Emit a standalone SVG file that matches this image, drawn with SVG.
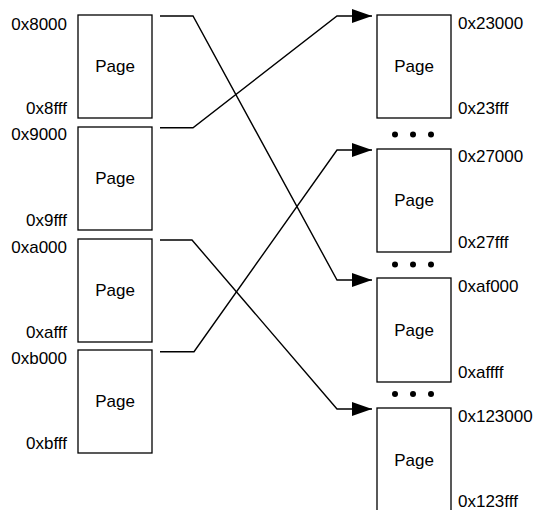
<svg xmlns="http://www.w3.org/2000/svg" width="539" height="510" viewBox="0 0 539 510">
  <defs>
    <marker id="arrow" markerUnits="userSpaceOnUse" markerWidth="20" markerHeight="14" refX="20" refY="7" orient="auto">
      <path d="M0,0 L20,7 L0,14 Z" fill="#000"/>
    </marker>
    <style>
      .page { fill: #fff; stroke: #000; stroke-width: 1.3; }
      .label { font-family: "Liberation Sans", Arial, sans-serif; font-size: 17px; fill: #000; }
      .mid { text-anchor: middle; }
      .end { text-anchor: end; }
      .link { fill: none; stroke: #000; stroke-width: 1.4; marker-end: url(#arrow); }
      .dot { fill: #000; }
    </style>
  </defs>
  <rect width="539" height="510" fill="#fff"/>

  <!-- virtual pages -->
  <g id="vpage-8000">
    <rect class="page" x="78" y="15" width="74" height="103"/>
    <text class="label mid" x="115" y="72">Page</text>
    <text class="label end" x="67" y="29.5">0x8000</text>
    <text class="label end" x="67" y="114">0x8fff</text>
  </g>
  <g id="vpage-9000">
    <rect class="page" x="78" y="127" width="74" height="103"/>
    <text class="label mid" x="115" y="184">Page</text>
    <text class="label end" x="67" y="140">0x9000</text>
    <text class="label end" x="67" y="226">0x9fff</text>
  </g>
  <g id="vpage-a000">
    <rect class="page" x="78" y="239" width="74" height="103"/>
    <text class="label mid" x="115" y="296">Page</text>
    <text class="label end" x="67" y="252.5">0xa000</text>
    <text class="label end" x="67" y="337.5">0xafff</text>
  </g>
  <g id="vpage-b000">
    <rect class="page" x="78" y="350" width="74" height="103"/>
    <text class="label mid" x="115" y="407">Page</text>
    <text class="label end" x="67" y="364">0xb000</text>
    <text class="label end" x="67" y="449">0xbfff</text>
  </g>

  <!-- physical frames -->
  <g id="frame-23000">
    <rect class="page" x="377" y="15" width="74" height="103"/>
    <text class="label mid" x="414" y="72">Page</text>
    <text class="label" x="458" y="29">0x23000</text>
    <text class="label" x="458" y="113.5">0x23fff</text>
  </g>
  <g id="gap-1">
    <circle class="dot" cx="395" cy="134.5" r="3"/>
    <circle class="dot" cx="413" cy="134.5" r="3"/>
    <circle class="dot" cx="431" cy="134.5" r="3"/>
  </g>
  <g id="frame-27000">
    <rect class="page" x="377" y="149" width="74" height="103"/>
    <text class="label mid" x="414" y="206">Page</text>
    <text class="label" x="458" y="162">0x27000</text>
    <text class="label" x="458" y="248">0x27fff</text>
  </g>
  <g id="gap-2">
    <circle class="dot" cx="395" cy="264.5" r="3"/>
    <circle class="dot" cx="413" cy="264.5" r="3"/>
    <circle class="dot" cx="431" cy="264.5" r="3"/>
  </g>
  <g id="frame-af000">
    <rect class="page" x="377" y="278" width="74" height="104"/>
    <text class="label mid" x="414" y="336">Page</text>
    <text class="label" x="458" y="292">0xaf000</text>
    <text class="label" x="458" y="377.5">0xaffff</text>
  </g>
  <g id="gap-3">
    <circle class="dot" cx="395" cy="394" r="3"/>
    <circle class="dot" cx="413" cy="394" r="3"/>
    <circle class="dot" cx="431" cy="394" r="3"/>
  </g>
  <g id="frame-123000">
    <rect class="page" x="377" y="408" width="74" height="104"/>
    <text class="label mid" x="414" y="466">Page</text>
    <text class="label" x="458" y="421.5">0x123000</text>
    <text class="label" x="458" y="507">0x123fff</text>
  </g>

  <!-- page table mappings -->
  <g id="connectors">
    <path class="link" d="M160,16 H193 L337,280 H372"/>
    <path class="link" d="M160,127.7 H193 L337,16 H372"/>
    <path class="link" d="M160,240 H192 L337,409 H372"/>
    <path class="link" d="M160,351.7 H194 L337,150 H372"/>
  </g>
</svg>
